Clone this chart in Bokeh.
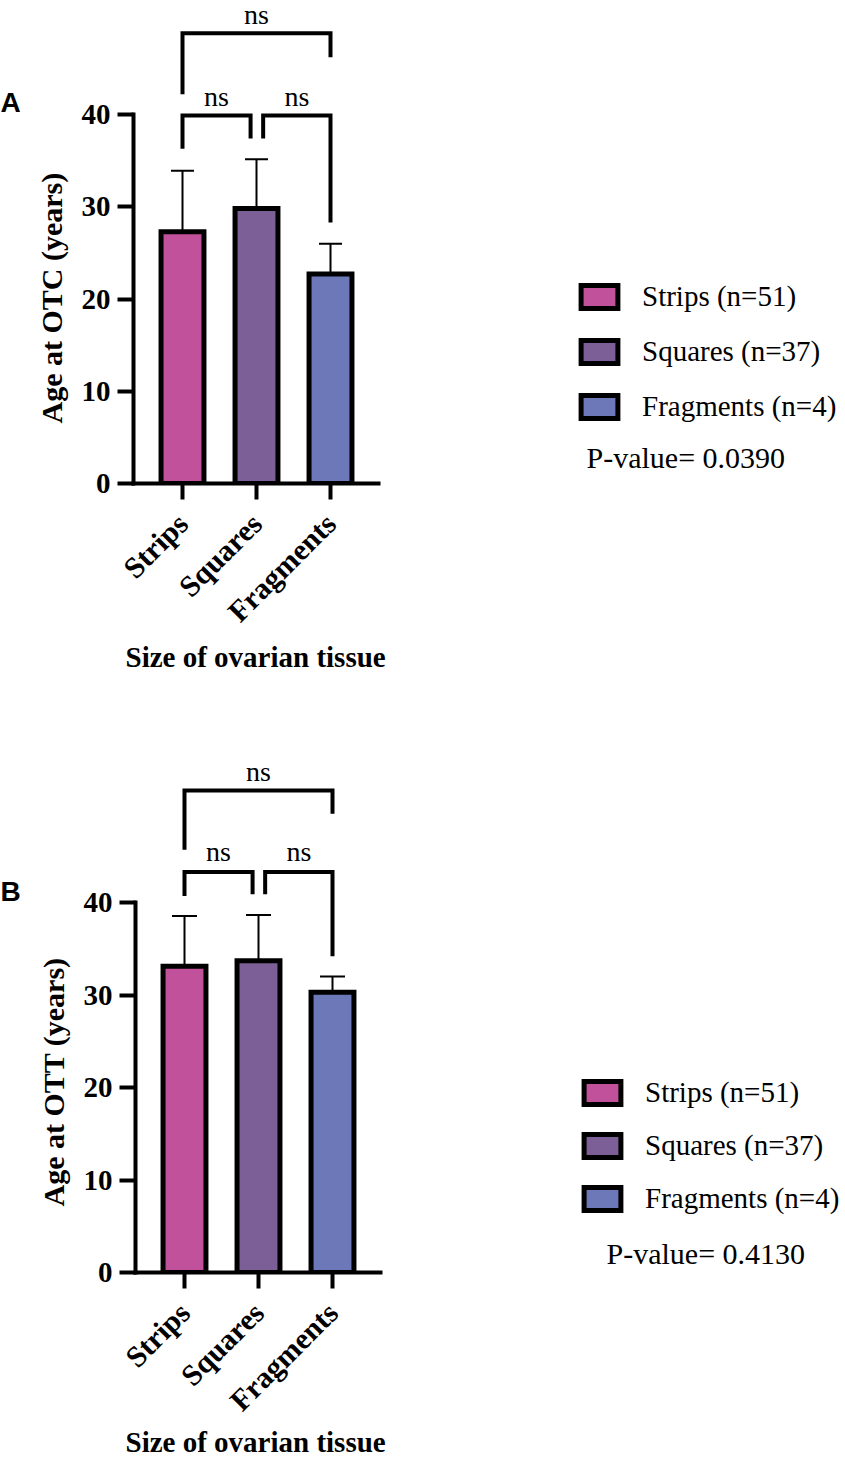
import math
from bokeh.plotting import figure
from bokeh.models import (ColumnDataSource, Range1d, Legend, LegendItem, Label, Title,
                          Whisker, TeeHead, FixedTicker, LinearAxis)
from bokeh.layouts import column, row
from bokeh.embed import file_html
from bokeh.resources import INLINE
from bokeh.core.properties import value

# ---------------- data ----------------
categories = ["Strips", "Squares", "Fragments"]
group_sizes = [51, 37, 4]
colors = ["#C2519B", "#7D5F97", "#6D78B8"]

otc_mean = [27.3, 29.8, 22.7]
otc_sd = [6.6, 5.35, 3.3]
ott_mean = [33.1, 33.7, 30.3]
ott_sd = [5.45, 4.95, 1.7]

p_values = ["0.0390", "0.4130"]

comparisons = [("Strips", "Squares"), ("Squares", "Fragments"), ("Strips", "Fragments")]
comparison_labels = ["ns", "ns", "ns"]
otc_bracket_y = [39.9, 39.9, 48.8]
otc_left_leg_end = [36.3, 37.4, 42.2]
otc_right_leg_end = [37.4, 28.3, 46.2]
otc_label_y = [41.9, 41.9, 50.8]
ott_bracket_y = [43.3, 43.3, 52.1]
ott_left_leg_end = [40.7, 40.9, 45.7]
ott_right_leg_end = [40.9, 34.2, 49.6]
ott_label_y = [45.5, 45.5, 54.2]

y_ticks = [0, 10, 20, 30, 40]
x_title = "Size of ovarian tissue"

SERIF = "Liberation Serif"
TOTAL_W = 845
LETTER_W = 21


def letter_fig(letter, height, axis_px, baseline_above_axis):
    f = figure(width=LETTER_W, height=height, x_range=Range1d(0, 1),
               y_range=Range1d(0, 1), output_backend="svg",
               toolbar_location=None, min_border_left=0, min_border_right=0,
               min_border_top=0, min_border_bottom=height - axis_px,
               x_axis_type=None, y_axis_type=None)
    f.outline_line_color = None
    f.xgrid.visible = False
    f.ygrid.visible = False
    f.add_layout(Label(x=0, y=baseline_above_axis, x_units="screen",
                       y_units="screen", text=letter, text_font="Liberation Sans",
                       text_font_style="bold", text_font_size="28px",
                       text_baseline="alphabetic", text_color="black"))
    return f


def panel(y_title, means, sds, b_y, b_l, b_r, b_lab, p_val,
          height, left, axis_px, unit_px, legend_xy, legend_spacing, pval_xy,
          cap_px, ytitle_offset, xtitle_offset, xtitle_standoff):
    W = TOTAL_W - LETTER_W
    px_x = 74.0
    frame_w = W - (left - LETTER_W)
    x0 = 1 - 49 / px_x
    p = figure(width=W, height=height,
               x_range=Range1d(x0, x0 + frame_w / px_x),
               y_range=Range1d(0, axis_px / unit_px),
               output_backend="svg", toolbar_location=None,
               min_border_left=left - LETTER_W, min_border_right=0, min_border_top=0,
               min_border_bottom=height - axis_px,
               x_axis_type=None, y_axis_type=None)
    p.outline_line_color = None
    p.xgrid.visible = False
    p.ygrid.visible = False

    xs_pos = [i + 1 for i in range(len(categories))]
    src = ColumnDataSource(dict(
        x=xs_pos, top=means, color=colors,
        upper=[m + s for m, s in zip(means, sds)],
        lower=[m - s for m, s in zip(means, sds)],
    ))
    bars = p.vbar(x="x", top="top", width=0.58, source=src,
                  fill_color="color", line_color="black", line_width=5,
                  line_join="miter")
    wh = Whisker(base="x", upper="upper", lower="lower", source=src,
                 line_width=2, line_color="black",
                 upper_head=TeeHead(size=cap_px, line_width=2, line_color="black"),
                 lower_head=TeeHead(size=cap_px, line_width=2, line_color="black"))
    p.add_layout(wh)

    # significance brackets
    pos = {c: i + 1 for i, c in enumerate(categories)}
    bxs, bys, mids = [], [], []
    for (a, b), yb, yl, yr in zip(comparisons, b_y, b_l, b_r):
        xa = pos[a] + (0.09 if a == "Squares" else 0.0)
        xb = pos[b] - (0.08 if b == "Squares" else 0.0)
        bxs.append([xa, xa, xb, xb])
        bys.append([yl, yb, yb, yr])
        mids.append((xa + xb) / 2)
    p.multi_line(bxs, bys, line_color="black", line_width=4, line_join="miter")
    p.text(x=mids, y=b_lab, text=comparison_labels,
           text_font=value(SERIF), text_font_size="28px",
           text_align="center", text_baseline="alphabetic", text_color="black")

    # axes
    yax = LinearAxis(bounds=(0, 40), ticker=FixedTicker(ticks=y_ticks))
    xax = LinearAxis(bounds=(x0, 3.65), ticker=FixedTicker(ticks=xs_pos),
                     major_label_overrides={i + 1: c for i, c in enumerate(categories)},
                     major_label_orientation=math.pi / 4)
    for ax in (yax, xax):
        ax.axis_line_width = 4
        ax.axis_line_color = "black"
        ax.axis_line_cap = "square"
        ax.major_tick_line_width = 4
        ax.major_tick_line_color = "black"
        ax.major_tick_out = 16
        ax.major_tick_in = 0
        ax.minor_tick_line_color = None
        ax.major_label_text_font = SERIF
        ax.major_label_text_font_style = "bold"
        ax.major_label_text_color = "black"
    yax.major_label_text_font_size = "29px"
    xax.major_label_text_font_size = "30px"
    yax.major_label_standoff = 7
    xax.major_label_standoff = 19
    p.add_layout(yax, "left")
    p.add_layout(xax, "below")

    # axis titles
    p.add_layout(Title(text=y_title, align="left", offset=ytitle_offset, standoff=22,
                       text_font=SERIF, text_font_style="bold",
                       text_font_size="30px", text_color="black"), "left")
    p.add_layout(Title(text=x_title, align="left", offset=xtitle_offset,
                       standoff=xtitle_standoff,
                       text_font=SERIF, text_font_style="bold",
                       text_font_size="29px", text_color="black"), "below")

    # legend
    items = [LegendItem(label=f"{c} (n={n})", renderers=[bars], index=i)
             for i, (c, n) in enumerate(zip(categories, group_sizes))]
    leg = Legend(items=items, location=legend_xy, orientation="vertical",
                 padding=0, margin=0, spacing=legend_spacing,
                 glyph_width=46, glyph_height=29, label_height=29,
                 label_standoff=20, label_text_font=SERIF,
                 label_text_font_size="29px", label_text_color="black",
                 border_line_color=None, background_fill_alpha=0)
    p.add_layout(leg)

    p.add_layout(Label(x=pval_xy[0], y=pval_xy[1], x_units="screen", y_units="screen",
                       text=f"P-value= {p_val}", text_font=SERIF,
                       text_font_size="30px", text_baseline="middle",
                       text_color="black"))
    return p


HA, HB = 740, 719
AXA, AXB = 483, 532
pA = panel("Age at OTC (years)", otc_mean, otc_sd, otc_bracket_y, otc_left_leg_end,
           otc_right_leg_end, otc_label_y, p_values[0],
           height=HA, left=133, axis_px=AXA, unit_px=9.225, legend_xy=(443, 60),
           legend_spacing=22, pval_xy=(453, 26), cap_px=23, ytitle_offset=60,
           xtitle_offset=-8, xtitle_standoff=-8)
pB = panel("Age at OTT (years)", ott_mean, ott_sd, ott_bracket_y, ott_left_leg_end,
           ott_right_leg_end, ott_label_y, p_values[1],
           height=HB, left=135, axis_px=AXB, unit_px=9.25, legend_xy=(444, 57),
           legend_spacing=20, pval_xy=(471, 19), cap_px=25, ytitle_offset=66,
           xtitle_offset=-10, xtitle_standoff=-16)

layout = column(row(letter_fig("A", HA, AXA, AXA - 102), pA, spacing=0),
                row(letter_fig("B", HB, AXB, AXB - 151), pB, spacing=0), spacing=0)
open("out.html", "w").write(file_html(layout, INLINE))
